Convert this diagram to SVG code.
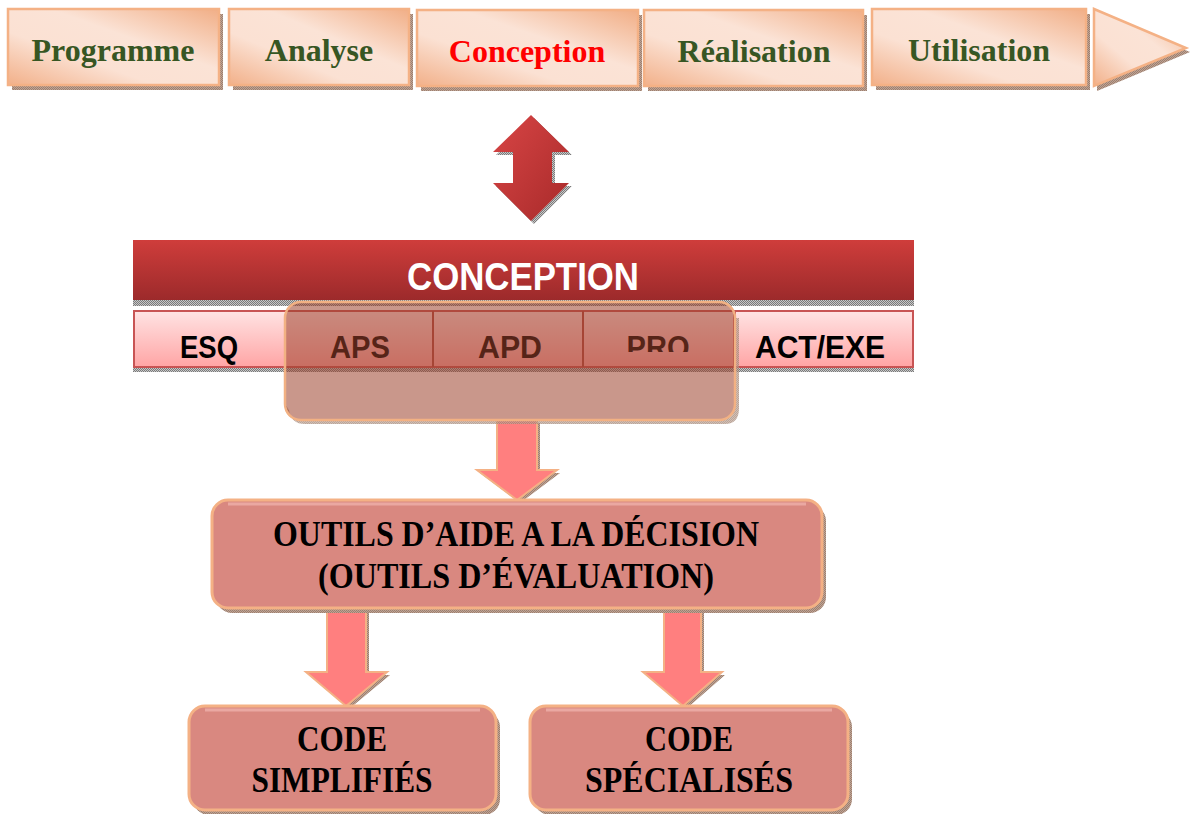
<svg xmlns="http://www.w3.org/2000/svg" width="1190" height="814" viewBox="0 0 1190 814">
  <defs>
    <linearGradient id="peach" x1="0" y1="1" x2="1" y2="0">
      <stop offset="0" stop-color="#f2b089"/>
      <stop offset="0.35" stop-color="#fbe1d3"/>
      <stop offset="0.6" stop-color="#fbe3d6"/>
      <stop offset="1" stop-color="#f1ae86"/>
    </linearGradient>
    <linearGradient id="banner" x1="0" y1="0" x2="0" y2="1">
      <stop offset="0" stop-color="#cf3d3b"/>
      <stop offset="1" stop-color="#9c2a2b"/>
    </linearGradient>
    <linearGradient id="cell" x1="0" y1="0" x2="0" y2="1">
      <stop offset="0" stop-color="#ffe3e3"/>
      <stop offset="1" stop-color="#ffa5a5"/>
    </linearGradient>
    <linearGradient id="redArrow" x1="0" y1="0" x2="1" y2="1">
      <stop offset="0" stop-color="#d84545"/>
      <stop offset="1" stop-color="#a82a2a"/>
    </linearGradient>
    <pattern id="dither" width="2" height="2" patternUnits="userSpaceOnUse">
      <rect width="2" height="2" fill="#bfa394"/>
      <rect width="1" height="1" fill="#9c8070"/>
      <rect x="1" y="1" width="1" height="1" fill="#9c8070"/>
    </pattern>
    <pattern id="grayDither" width="2" height="2" patternUnits="userSpaceOnUse">
      <rect width="2" height="2" fill="#c8c8c8"/>
      <rect width="1" height="1" fill="#7a7a7a"/>
      <rect x="1" y="1" width="1" height="1" fill="#7a7a7a"/>
    </pattern>
    <clipPath id="proClip">
      <rect x="583" y="310" width="152" height="42"/>
    </clipPath>
    <style>
      .phase { fill: url(#peach); stroke: #f4b185; stroke-width: 2.5; }
      .shadow { fill: url(#dither); }
      .gshadow { fill: url(#grayDither); }
      .ptxt { font-family: "Liberation Serif", "Times New Roman", serif; font-weight: bold; font-size: 32px; fill: #375623; text-anchor: middle; }
      .sans { font-family: "Liberation Sans", Arial, sans-serif; font-weight: bold; text-anchor: middle; }
      .box { fill: #d98880; stroke: #f4b185; stroke-width: 3; }
      .pink { fill: #ff7f7f; stroke: #f4b185; stroke-width: 2; }
      .btxt { font-family: "Liberation Serif", "Times New Roman", serif; font-weight: bold; font-size: 36px; fill: #000; text-anchor: middle; }
    </style>
  </defs>

  <!-- process phases -->
  <g id="phase-programme">
    <rect class="shadow" x="12" y="14" width="211" height="76"/>
    <rect class="phase" x="8" y="9" width="211" height="76"/>
    <text class="ptxt" x="113" y="61">Programme</text>
  </g>
  <g id="phase-analyse">
    <rect class="shadow" x="233" y="14" width="180" height="76"/>
    <rect class="phase" x="229" y="9" width="180" height="76"/>
    <text class="ptxt" x="319" y="61">Analyse</text>
  </g>
  <g id="phase-conception">
    <rect class="shadow" x="421" y="15" width="221" height="76"/>
    <rect class="phase" x="417" y="10" width="221" height="76"/>
    <text class="ptxt" x="527" y="62" style="fill:#ff0000">Conception</text>
  </g>
  <g id="phase-realisation">
    <rect class="shadow" x="648" y="15" width="219" height="76"/>
    <rect class="phase" x="644" y="10" width="219" height="76"/>
    <text class="ptxt" x="754" y="62">Réalisation</text>
  </g>
  <g id="phase-utilisation">
    <rect class="shadow" x="876" y="14" width="214" height="76"/>
    <rect class="phase" x="872" y="9" width="214" height="76"/>
    <text class="ptxt" x="979" y="61">Utilisation</text>
  </g>
  <g id="phase-arrow">
    <polygon class="shadow" points="1097,14 1190,52 1097,91"/>
    <polygon class="phase" points="1094,9 1186,48 1094,86"/>
  </g>

  <!-- connectors -->
  <g id="connectors">
    <path class="gshadow" d="M534,118 L572,155 L555,155 L555,186 L572,186 L534,224 L496,186 L516,186 L516,155 L496,155 Z"/>
    <path d="M531,115 L569,152 L552,152 L552,183 L569,183 L531,221 L493,183 L513,183 L513,152 L493,152 Z" fill="url(#redArrow)"/>

    <path class="shadow" d="M500,423 L540,423 L540,473 L560,473 L520,503 L480,473 L500,473 Z"/>
    <path class="pink" d="M497,420 L537,420 L537,470 L557,470 L517,500 L477,470 L497,470 Z"/>

    <path class="shadow" d="M330,611 L369,611 L369,675 L390,675 L349,709 L309,675 L330,675 Z"/>
    <path class="pink" d="M327,608 L366,608 L366,672 L387,672 L346,706 L306,672 L327,672 Z"/>

    <path class="shadow" d="M667,611 L704,611 L704,675 L725,675 L686,709 L646,675 L667,675 Z"/>
    <path class="pink" d="M664,608 L701,608 L701,672 L722,672 L683,706 L643,672 L664,672 Z"/>
  </g>

  <!-- conception stage banner -->
  <g id="conception-banner">
    <rect class="gshadow" x="133" y="300" width="781" height="6"/>
    <rect x="133" y="240" width="781" height="60" fill="url(#banner)"/>
    <text class="sans" x="523" y="290" font-size="38" fill="#ffffff" textLength="232" lengthAdjust="spacingAndGlyphs">CONCEPTION</text>
  </g>

  <!-- sub-phases -->
  <g id="subphases">
    <rect class="gshadow" x="133" y="368" width="781" height="4"/>
    <rect x="134" y="311" width="600" height="56" fill="url(#cell)" stroke="#c85454" stroke-width="2"/>
    <rect x="735" y="311" width="178" height="56" fill="url(#cell)" stroke="#c85454" stroke-width="2"/>
    <line x1="433" y1="311" x2="433" y2="367" stroke="#b24a40" stroke-width="2"/>
    <line x1="583" y1="311" x2="583" y2="367" stroke="#b24a40" stroke-width="2"/>
    <text class="sans" x="209" y="358" font-size="32" fill="#000" textLength="58" lengthAdjust="spacingAndGlyphs">ESQ</text>
    <text class="sans" x="360" y="358" font-size="32" fill="#000" textLength="60" lengthAdjust="spacingAndGlyphs">APS</text>
    <text class="sans" x="510" y="358" font-size="32" fill="#000" textLength="64" lengthAdjust="spacingAndGlyphs">APD</text>
    <text class="sans" x="658" y="358" font-size="32" fill="#000" textLength="63" lengthAdjust="spacingAndGlyphs" clip-path="url(#proClip)">PRO</text>
    <text class="sans" x="820" y="358" font-size="32" fill="#000" textLength="130" lengthAdjust="spacingAndGlyphs">ACT/EXE</text>
  </g>

  <!-- highlighted sub-phase group -->
  <g id="highlight">
    <path class="shadow" d="M289,410 Q291,424 305,424 H725 Q739,424 739,408 V318 H735 V404 Q735,420 719,420 H301 Q285,420 285,404 Z" opacity="0.7"/>
    <rect x="285" y="302" width="450" height="118" rx="16" fill="#9d422c" fill-opacity="0.55" stroke="#f2b183" stroke-width="2.5"/>
  </g>

  <!-- decision tools -->
  <g id="outils">
    <rect class="shadow" x="216" y="505" width="610" height="108" rx="16"/>
    <rect class="box" x="212" y="500" width="610" height="108" rx="16"/>
    <path d="M228,504 H806" stroke="#eaa8a2" stroke-width="3"/>
    <text class="btxt" x="516" y="546" textLength="486" lengthAdjust="spacingAndGlyphs">OUTILS D’AIDE A LA DÉCISION</text>
    <text class="btxt" x="516" y="588" textLength="396" lengthAdjust="spacingAndGlyphs">(OUTILS D’ÉVALUATION)</text>
  </g>

  <!-- codes -->
  <g id="code-simplifies">
    <rect class="shadow" x="193" y="711" width="307" height="104" rx="16"/>
    <rect class="box" x="189" y="706" width="307" height="104" rx="16"/>
    <path d="M205,710 H480" stroke="#eaa8a2" stroke-width="3"/>
    <text class="btxt" x="342" y="751" textLength="90" lengthAdjust="spacingAndGlyphs">CODE</text>
    <text class="btxt" x="342" y="792" textLength="181" lengthAdjust="spacingAndGlyphs">SIMPLIFIÉS</text>
  </g>
  <g id="code-specialises">
    <rect class="shadow" x="534" y="711" width="318" height="104" rx="16"/>
    <rect class="box" x="530" y="706" width="318" height="104" rx="16"/>
    <path d="M546,710 H832" stroke="#eaa8a2" stroke-width="3"/>
    <text class="btxt" x="689" y="751" textLength="88" lengthAdjust="spacingAndGlyphs">CODE</text>
    <text class="btxt" x="689" y="792" textLength="208" lengthAdjust="spacingAndGlyphs">SPÉCIALISÉS</text>
  </g>
</svg>
